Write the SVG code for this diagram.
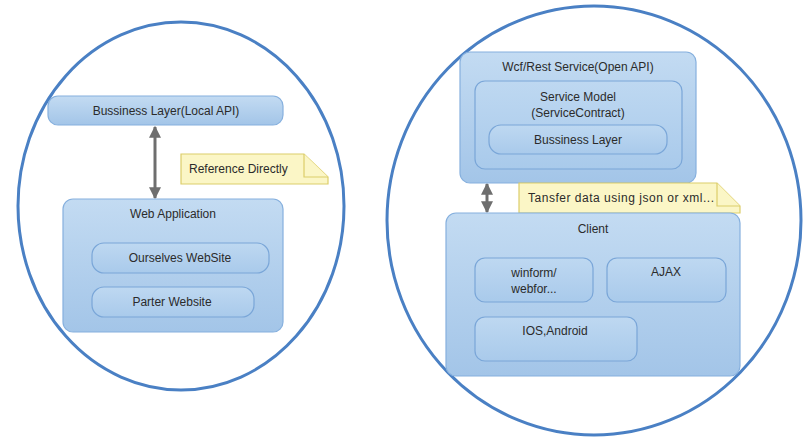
<svg xmlns="http://www.w3.org/2000/svg" width="808" height="443" viewBox="0 0 808 443">
<defs>
<linearGradient id="g" x1="0" y1="0" x2="0" y2="1"><stop offset="0" stop-color="#c3dbf2"/><stop offset="1" stop-color="#a3c5e8"/></linearGradient>
<linearGradient id="gi" x1="0" y1="0" x2="0" y2="1"><stop offset="0" stop-color="#bed8f1"/><stop offset="1" stop-color="#a9caeb"/></linearGradient>
<marker id="ah" viewBox="0 0 10 10" refX="9" refY="5" markerWidth="4.5" markerHeight="4" orient="auto-start-reverse" markerUnits="strokeWidth"><path d="M0,0 L10,5 L0,10 z" fill="#6e6e6e"/></marker>
</defs>
<style>
.ring{fill:none;stroke:#4a80c4;stroke-width:3}
.box{fill:url(#g);stroke:#86b0de;stroke-width:1.2}
.inner{fill:url(#gi);stroke:#7aa6d8;stroke-width:1.2}
.note{fill:#fbf6c6;stroke:#dccd6a;stroke-width:1.2}
.fold{fill:#fbf6c6;stroke:#dccd6a;stroke-width:1.2}
.t{font-family:"Liberation Sans",Arial,sans-serif;font-size:12px;fill:#2b2b2b;text-anchor:middle}
.tl{font-family:"Liberation Sans",Arial,sans-serif;font-size:12px;fill:#2b2b2b}
.conn{stroke:#6e6e6e;stroke-width:3;fill:none}
</style>
<rect width="808" height="443" fill="#ffffff"/>
<ellipse class="ring" cx="181" cy="206" rx="163" ry="184"/>
<ellipse class="ring" cx="594" cy="220.5" rx="207" ry="214.5"/>

<g id="connectors">
<line class="conn" x1="155" y1="127" x2="155" y2="198" marker-start="url(#ah)" marker-end="url(#ah)"/>
<line class="conn" x1="487" y1="184" x2="487" y2="212" marker-start="url(#ah)" marker-end="url(#ah)"/>
</g>

<g id="bl-local">
<rect class="box" x="48" y="96" width="235" height="29" rx="10"/>
<text class="t" x="166" y="115">Bussiness Layer(Local API)</text>
</g>
<g id="note-ref">
<path class="note" d="M181,154 H304 L328,177 V184 H181 Z"/>
<path class="fold" d="M304,154 V177 H328"/>
<text class="tl" x="189" y="173">Reference Directly</text>
</g>
<g id="webapp">
<rect class="box" x="63" y="199" width="220" height="133" rx="10"/>
<text class="t" x="173" y="218">Web Application</text>
</g>
<g id="ourselves">
<rect class="inner" x="92" y="243" width="177" height="30" rx="12"/>
<text class="t" x="180" y="262">Ourselves WebSite</text>
</g>
<g id="parter">
<rect class="inner" x="92" y="287" width="162" height="30" rx="12"/>
<text class="t" x="172" y="306">Parter Website</text>
</g>

<g id="wcf">
<rect class="box" x="460" y="52" width="236" height="131" rx="10"/>
<text class="t" x="578" y="71">Wcf/Rest Service(Open API)</text>
</g>
<g id="servicemodel">
<rect class="inner" x="475" y="81" width="207" height="88" rx="10"/>
<text class="t" x="578" y="101">Service Model</text>
<text class="t" x="578" y="117">(ServiceContract)</text>
</g>
<g id="bl">
<rect class="inner" x="489" y="125" width="178" height="29" rx="12"/>
<text class="t" x="578" y="144">Bussiness Layer</text>
</g>
<g id="note-transfer">
<path class="note" d="M519,183 H717 L740,206 V213 H519 Z"/>
<path class="fold" d="M717,183 V206 H740"/>
<text class="tl" x="528" y="202" textLength="186" lengthAdjust="spacing">Tansfer data using json or xml...</text>
</g>
<g id="client">
<rect class="box" x="446" y="213" width="294" height="163" rx="10"/>
<text class="t" x="593" y="233">Client</text>
</g>
<g id="winform">
<rect class="inner" x="475" y="258" width="118" height="44" rx="10"/>
<text class="t" x="534" y="277">winform/</text>
<text class="t" x="534" y="293">webfor...</text>
</g>
<g id="ajax">
<rect class="inner" x="607" y="258" width="119" height="44" rx="10"/>
<text class="t" x="666" y="276">AJAX</text>
</g>
<g id="ios">
<rect class="inner" x="475" y="317" width="162" height="44" rx="10"/>
<text class="t" x="555" y="335">IOS,Android</text>
</g>
</svg>
